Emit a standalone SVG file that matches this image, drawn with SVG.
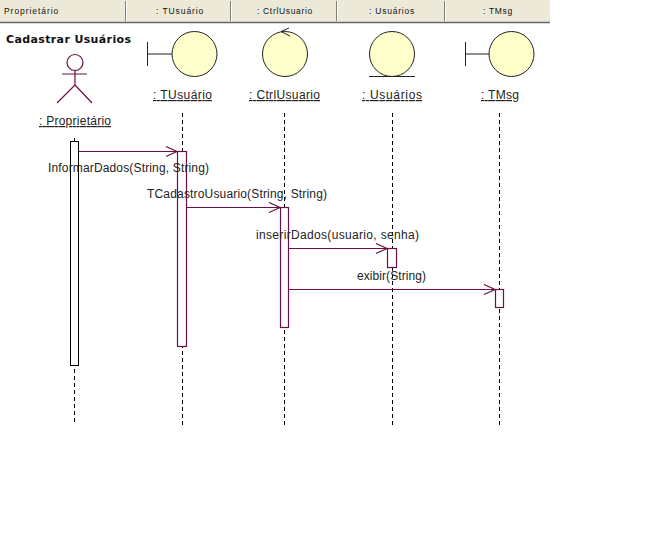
<svg xmlns="http://www.w3.org/2000/svg" width="668" height="536" viewBox="0 0 668 536">
<style>
.hb{fill:#ece9d8}
.hd{stroke:#808070;stroke-width:1;fill:none}
.ht{font:8.5px "Liberation Sans",Arial,sans-serif;fill:#111;letter-spacing:.7px}
.t{font:12px "Liberation Sans",Arial,sans-serif;fill:#222}
.u{text-decoration:underline}
.c{fill:#ffffcb;stroke:#222;stroke-width:1}
.k{stroke:#222;stroke-width:1;fill:none}
.m{stroke:#6b0f45;stroke-width:1.200;fill:none}
.a{stroke:#6b0f45;stroke-width:1.200;fill:#fff}
.l{stroke:#000;stroke-width:1;stroke-dasharray:4 3;fill:none}
</style>
<defs><marker id="o" markerUnits="userSpaceOnUse" markerWidth="14" markerHeight="12" refX="12" refY="6" orient="auto"><path d="M1 1L12 6L1 11" fill="none" stroke="#6b0f45" stroke-width="1.200"/></marker></defs>
<rect width="668" height="536" fill="#fff"/>
<g id="header">
<rect class="hb" x="0" y="0" width="550" height="22"/>
<path d="M0 22.500H550" stroke="#666" stroke-width="1.500"/>
<path class="hd" d="M125.500 1V21M230.500 1V21M336.500 1V21M444.500 1V21"/>
<path d="M126.500 1V21M231.500 1V21M337.500 1V21M445.500 1V21" stroke="#fff" fill="none"/>
<text class="ht" x="4" y="14" textLength="55">Proprietário</text>
<text class="ht" x="156" y="14" textLength="48">: TUsuário</text>
<text class="ht" x="257" y="14" textLength="56">: CtrlUsuario</text>
<text class="ht" x="369" y="14" textLength="46">: Usuários</text>
<text class="ht" x="483" y="14" textLength="30">: TMsg</text>
</g>
<text x="6" y="43" font-family="'DejaVu Sans',sans-serif" font-size="11" font-weight="bold" fill="#111" textLength="125">Cadastrar Usuários</text>
<g id="lifelines">
<path class="l" d="M74.500 138V424"/>
<path class="l" d="M182.500 113V426"/>
<path class="l" d="M284.500 113V426"/>
<path class="l" d="M392.500 113V426"/>
<path class="l" d="M499.500 113V426"/>
</g>
<g id="proprietario">
<circle cx="75" cy="62.500" r="8" fill="#fff" stroke="#6b0f45" stroke-width="1.200"/>
<path class="m" d="M62 74H87M75 70V85L57 103M75 85L92 103"/>
<text class="t u" x="39" y="125" textLength="72">: Proprietário</text>
<rect x="70.500" y="141.500" width="8" height="224" fill="#fff" stroke="#000"/>
</g>
<g id="tusuario">
<path class="k" d="M147.500 42V66M147.500 54H172"/>
<circle class="c" cx="194.500" cy="54" r="22.500"/>
<text class="t u" x="153" y="99" textLength="59">: TUsuário</text>
<rect class="a" x="177.500" y="151.500" width="9" height="195"/>
</g>
<g id="ctrlusuario">
<circle class="c" cx="285" cy="54" r="22.500"/>
<path class="k" d="M289 28L281 31.500L290 36"/>
<text class="t u" x="249" y="99" textLength="71">: CtrlUsuario</text>
<rect class="a" x="280.500" y="207.500" width="8" height="120"/>
</g>
<g id="usuarios">
<circle class="c" cx="392" cy="54" r="22.500"/>
<path class="k" d="M369 76.500H415"/>
<text class="t u" x="362" y="99" textLength="60">: Usuários</text>
<rect class="a" x="387.500" y="248.500" width="9" height="19"/>
</g>
<g id="tmsg">
<path class="k" d="M465.500 42V66M465.500 54H489"/>
<circle class="c" cx="511.500" cy="54" r="22.500"/>
<text class="t u" x="481" y="99" textLength="38">: TMsg</text>
<rect class="a" x="495.500" y="289.500" width="8" height="18"/>
</g>
<g id="connectors">
<path class="m" d="M78.500 151.500H177" marker-end="url(#o)"/>
<path class="m" d="M186.500 207.500H280" marker-end="url(#o)"/>
<path class="m" d="M288.500 248.500H387" marker-end="url(#o)"/>
<path class="m" d="M288.500 289.500H495" marker-end="url(#o)"/>
<text class="t" x="48" y="172" textLength="161">InformarDados(String, String)</text>
<text class="t" x="147" y="198" textLength="180">TCadastroUsuario(String, String)</text>
<text class="t" x="256" y="239" textLength="163">inserirDados(usuario, senha)</text>
<text class="t" x="357" y="280" textLength="69">exibir(String)</text>
</g>
</svg>
